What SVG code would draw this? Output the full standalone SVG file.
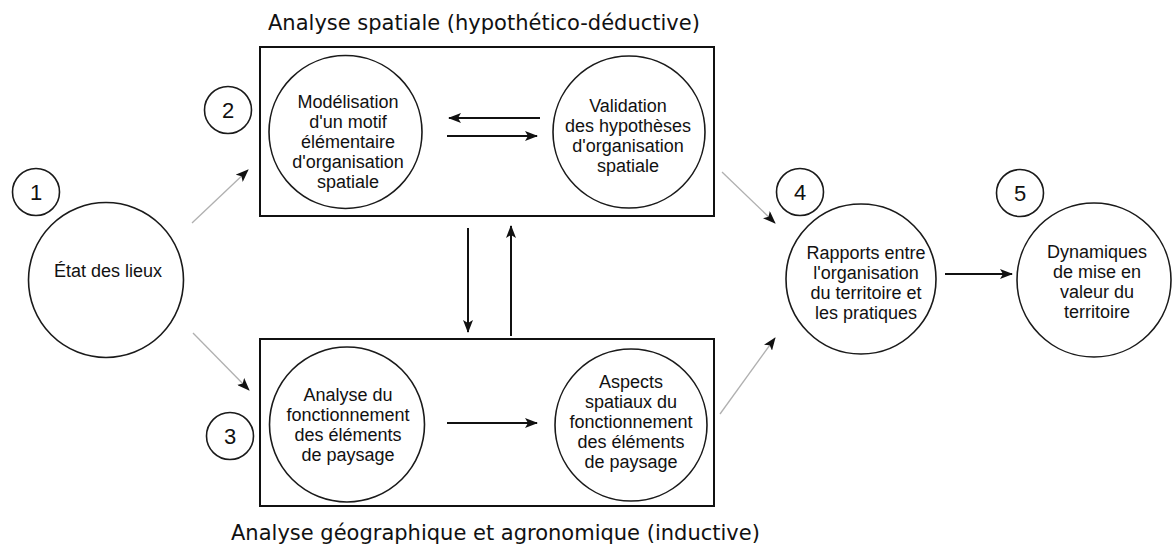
<svg xmlns="http://www.w3.org/2000/svg" width="1172" height="547" viewBox="0 0 1172 547">
  <style>
    .bg { fill: #ffffff; }
    .frame { fill: none; stroke: #111; stroke-width: 2; }
    .node { fill: #ffffff; stroke: #1a1a1a; stroke-width: 1.6; }
    .num { fill: #ffffff; stroke: #1a1a1a; stroke-width: 1.6; }
    .lbl { font-family: "Liberation Sans", Arial, sans-serif; font-size: 18px; fill: #111; text-anchor: middle; }
    .digit { font-family: "Liberation Sans", Arial, sans-serif; font-size: 22px; fill: #111; text-anchor: middle; }
    .title { font-family: "DejaVu Sans", Verdana, sans-serif; font-size: 21px; fill: #111; }
    .flow { stroke: #111; stroke-width: 2; fill: none; marker-end: url(#head); }
    .feed { stroke: #b0b0b0; stroke-width: 1.3; fill: none; marker-end: url(#headThin); }
  </style>
  <defs>
    <marker id="head" markerWidth="13" markerHeight="10" refX="12" refY="5" orient="auto" markerUnits="userSpaceOnUse">
      <path d="M0,0 L13,5 L0,10 L3,5 Z" fill="#111"/>
    </marker>
    <marker id="headThin" markerWidth="13" markerHeight="10" refX="12" refY="5" orient="auto" markerUnits="userSpaceOnUse">
      <path d="M0,0 L13,5 L0,10 L3,5 Z" fill="#111"/>
    </marker>
  </defs>

  <rect class="bg" x="0" y="0" width="1172" height="547"/>

  <!-- section captions -->
  <text class="title" x="268" y="30">Analyse spatiale (hypothético-déductive)</text>
  <text class="title" x="231" y="540">Analyse géographique et agronomique (inductive)</text>

  <!-- framing boxes -->
  <g id="box-spatial">
    <rect class="frame" x="260" y="47" width="454" height="169"/>
  </g>
  <g id="box-inductive">
    <rect class="frame" x="260" y="339" width="454" height="167"/>
  </g>

  <!-- connectors -->
  <g id="connectors">
    <line class="feed" x1="192" y1="223" x2="248" y2="170"/>
    <line class="feed" x1="193" y1="333" x2="249" y2="390"/>
    <line class="feed" x1="722" y1="172" x2="775" y2="223"/>
    <line class="feed" x1="720" y1="414" x2="775" y2="338"/>
    <line class="flow" x1="540" y1="118" x2="449" y2="118"/>
    <line class="flow" x1="447" y1="136" x2="537" y2="136"/>
    <line class="flow" x1="468" y1="228" x2="468" y2="332"/>
    <line class="flow" x1="511" y1="336" x2="511" y2="226"/>
    <line class="flow" x1="447" y1="423" x2="537" y2="423"/>
    <line class="flow" x1="945" y1="274" x2="1012" y2="274"/>
  </g>

  <!-- step 1 -->
  <g id="etat-des-lieux">
    <circle class="node" cx="106" cy="280" r="77.5"/>
    <text class="lbl" x="108" y="277">État des lieux</text>
  </g>
  <g id="step-1">
    <circle class="num" cx="36" cy="192" r="23.5"/>
    <text class="digit" x="36" y="200">1</text>
  </g>

  <!-- step 2 -->
  <g id="step-2">
    <circle class="num" cx="228" cy="110" r="23.5"/>
    <text class="digit" x="228" y="118">2</text>
  </g>
  <g id="modelisation">
    <circle class="node" cx="345.5" cy="132" r="76.5"/>
    <text class="lbl" x="348" y="108">Modélisation</text>
    <text class="lbl" x="348" y="128">d'un motif</text>
    <text class="lbl" x="348" y="148">élémentaire</text>
    <text class="lbl" x="348" y="168">d'organisation</text>
    <text class="lbl" x="348" y="188">spatiale</text>
  </g>
  <g id="validation">
    <circle class="node" cx="629" cy="132" r="76"/>
    <text class="lbl" x="628" y="112">Validation</text>
    <text class="lbl" x="628" y="132">des hypothèses</text>
    <text class="lbl" x="628" y="152">d'organisation</text>
    <text class="lbl" x="628" y="172">spatiale</text>
  </g>

  <!-- step 3 -->
  <g id="step-3">
    <circle class="num" cx="230" cy="436" r="23.5"/>
    <text class="digit" x="230" y="444">3</text>
  </g>
  <g id="fonctionnement">
    <circle class="node" cx="347" cy="424.5" r="77.5"/>
    <text class="lbl" x="348" y="401">Analyse du</text>
    <text class="lbl" x="348" y="421">fonctionnement</text>
    <text class="lbl" x="348" y="441">des éléments</text>
    <text class="lbl" x="348" y="461">de paysage</text>
  </g>
  <g id="aspects-spatiaux">
    <circle class="node" cx="631" cy="425" r="76"/>
    <text class="lbl" x="631" y="388">Aspects</text>
    <text class="lbl" x="631" y="408">spatiaux du</text>
    <text class="lbl" x="631" y="428">fonctionnement</text>
    <text class="lbl" x="631" y="448">des éléments</text>
    <text class="lbl" x="631" y="468">de paysage</text>
  </g>

  <!-- step 4 -->
  <g id="step-4">
    <circle class="num" cx="800" cy="192" r="23.5"/>
    <text class="digit" x="800" y="200">4</text>
  </g>
  <g id="rapports">
    <circle class="node" cx="861" cy="279" r="75"/>
    <text class="lbl" x="866" y="259">Rapports entre</text>
    <text class="lbl" x="866" y="279">l'organisation</text>
    <text class="lbl" x="866" y="299">du territoire et</text>
    <text class="lbl" x="866" y="319">les pratiques</text>
  </g>

  <!-- step 5 -->
  <g id="step-5">
    <circle class="num" cx="1020" cy="193" r="23.5"/>
    <text class="digit" x="1020" y="201">5</text>
  </g>
  <g id="dynamiques">
    <circle class="node" cx="1094" cy="280" r="77"/>
    <text class="lbl" x="1097" y="258">Dynamiques</text>
    <text class="lbl" x="1097" y="278">de mise en</text>
    <text class="lbl" x="1097" y="298">valeur du</text>
    <text class="lbl" x="1097" y="318">territoire</text>
  </g>
</svg>
